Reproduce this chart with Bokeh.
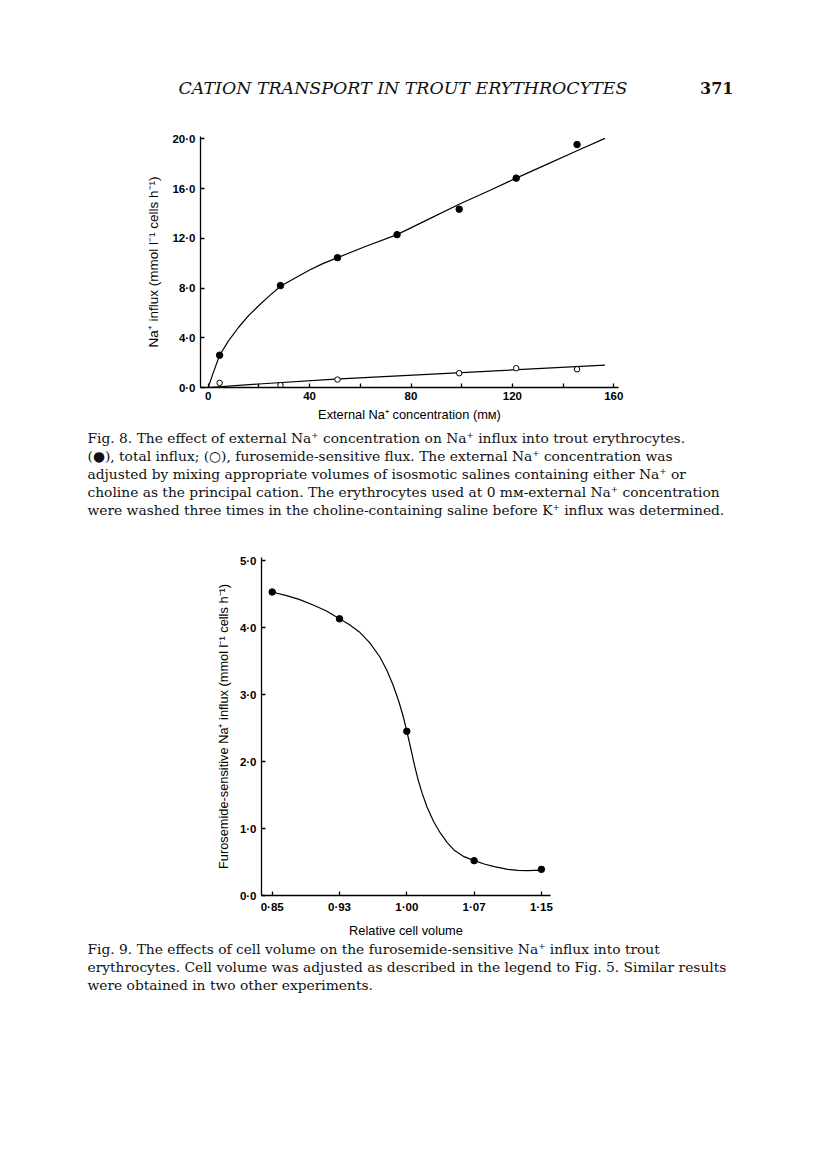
from bokeh.plotting import figure
from bokeh.models import Range1d, FixedTicker
from bokeh.layouts import column, row
from bokeh.core.properties import value
from bokeh.embed import file_html
from bokeh.resources import INLINE

# ---------------- Fig. 8 data ----------------
na_conc_total = [4.5, 28.5, 51.0, 74.5, 99.0, 121.5, 145.5]
total_influx = [2.6, 8.2, 10.45, 12.3, 14.35, 16.85, 19.55]
na_conc_furo = [4.5, 28.5, 51.0, 99.0, 121.5, 145.5]
furo_flux = [0.37, 0.19, 0.64, 1.15, 1.55, 1.47]
# hand-drawn fitted curves
total_fit_x = [0, 2, 4.5, 8, 12, 16, 20, 24, 28.5, 35, 40, 45, 51, 62, 74.5,
               87, 99, 111, 121.5, 134, 145.5, 156.5]
total_fit_y = [0, 1.2, 2.6, 3.75, 4.85, 5.8, 6.6, 7.35, 8.15, 8.9, 9.45, 9.95,
               10.45, 11.35, 12.3, 13.55, 14.75, 15.85, 16.85, 18.0, 19.05, 20.05]
furo_fit_x = [0, 20, 50, 100, 156.5]
furo_fit_y = [0, 0.28, 0.68, 1.2, 1.8]
fig8_y_ticks = [0, 4, 8, 12, 16, 20]
fig8_y_labels = ["0·0", "4·0", "8·0", "12·0", "16·0", "20·0"]
fig8_x_ticks = [0, 40, 80, 120, 160]
fig8_x_minor = [20, 60, 100, 140]
fig8_x_labels = ["0", "40", "80", "120", "160"]

# ---------------- Fig. 9 data ----------------
rel_volume_labels = ["0·85", "0·93", "1·00", "1·07", "1·15"]
rel_volume_pos = [0, 1, 2, 3, 4]
furo_sensitive = [4.53, 4.13, 2.45, 0.52, 0.39]
fit9_x = [0, 0.2, 0.4, 0.6, 0.8, 1, 1.15, 1.3, 1.45, 1.6, 1.7, 1.8, 1.88, 1.95,
          2.0, 2.04, 2.08, 2.12, 2.17, 2.23, 2.3, 2.4, 2.5, 2.6, 2.7, 2.85, 3.0,
          3.15, 3.3, 3.5, 3.65, 3.8, 4.0]
fit9_y = [4.53, 4.48, 4.42, 4.34, 4.25, 4.13, 4.04, 3.93, 3.77, 3.56, 3.37,
          3.13, 2.9, 2.66, 2.45, 2.28, 2.1, 1.92, 1.72, 1.52, 1.32, 1.1, 0.93,
          0.79, 0.68, 0.58, 0.52, 0.47, 0.43, 0.39, 0.375, 0.37, 0.38]
fig9_y_ticks = [0, 1, 2, 3, 4, 5]
fig9_y_labels = ["0·0", "1·0", "2·0", "3·0", "4·0", "5·0"]

# ---------------- texts ----------------
header_title = "CATION TRANSPORT IN TROUT ERYTHROCYTES"
page_number = "371"
caption8 = [
    "Fig. 8. The effect of external Na⁺ concentration on Na⁺ influx into trout erythrocytes.",
    "(●), total influx; (○), furosemide-sensitive flux. The external Na⁺ concentration was",
    "adjusted by mixing appropriate volumes of isosmotic salines containing either Na⁺ or",
    "choline as the principal cation. The erythrocytes used at 0 mᴍ-external Na⁺ concentration",
    "were washed three times in the choline-containing saline before K⁺ influx was determined.",
]
caption9 = [
    "Fig. 9. The effects of cell volume on the furosemide-sensitive Na⁺ influx into trout",
    "erythrocytes. Cell volume was adjusted as described in the legend to Fig. 5. Similar results",
    "were obtained in two other experiments.",
]

W = 800
SERIF = "DejaVu Serif"
SANS = "Liberation Sans"
CAP_SIZE = "13.8px"


def canvas(h):
    c = figure(width=W, height=h, x_range=Range1d(0, W), y_range=Range1d(h, 0),
               output_backend="svg", toolbar_location=None, min_border=0,
               x_axis_location=None, y_axis_location=None)
    c.grid.visible = False
    c.outline_line_color = None
    return c


def style_axes(p):
    p.grid.visible = False
    p.outline_line_color = None
    for ax in (p.xaxis[0], p.yaxis[0]):
        ax.axis_line_color = "black"
        ax.axis_line_width = 1.3
        ax.major_tick_line_width = 1.3
        ax.minor_tick_line_width = 1.3
        ax.major_tick_in = 4
        ax.major_tick_out = 0
        ax.minor_tick_in = 4
        ax.minor_tick_out = 0
        ax.major_label_text_font = SANS
        ax.major_label_text_font_style = "bold"
        ax.major_label_text_font_size = "11.5px"
        ax.major_label_text_color = "black"
        ax.axis_label_text_font = SANS
        ax.axis_label_text_font_style = "normal"
        ax.axis_label_text_font_size = "12.8px"
        ax.axis_label_text_color = "black"


# ---------------- header ----------------
hdr = canvas(118)
hdr.text(x=[178], y=[87], text=[header_title], text_font=value(SERIF),
         text_font_style="italic", text_font_size="17.4px", text_color="#111111",
         text_baseline="alphabetic", text_align="left")
hdr.text(x=[733], y=[87], text=[page_number], text_font=value(SERIF),
         text_font_style="bold", text_font_size="16px", text_color="#111111",
         text_baseline="alphabetic", text_align="right")

# ---------------- Fig. 8 ----------------
p8 = figure(width=W, height=307, x_range=Range1d(-3.04, 161.85),
            y_range=Range1d(0, 20.2), min_border_left=200, min_border_right=182,
            min_border_top=18, min_border_bottom=38,
            output_backend="svg", toolbar_location=None)
style_axes(p8)
p8.xaxis.ticker = FixedTicker(ticks=fig8_x_ticks, minor_ticks=fig8_x_minor)
p8.xaxis.major_label_overrides = dict(zip(fig8_x_ticks, fig8_x_labels))
p8.yaxis.ticker = FixedTicker(ticks=fig8_y_ticks)
p8.yaxis.major_label_overrides = dict(zip(fig8_y_ticks, fig8_y_labels))
p8.xaxis.axis_label = "External Na⁺ concentration (mᴍ)"
p8.yaxis.axis_label = "Na⁺ influx (mmol l⁻¹ cells h⁻¹)"
p8.yaxis.axis_label_text_font_size = "13.5px"
p8.xaxis.major_label_standoff = 4
p8.xaxis.axis_label_standoff = 4
p8.yaxis.major_label_standoff = 5
p8.yaxis.axis_label_standoff = 8

p8.line(total_fit_x, total_fit_y, line_color="black", line_width=1.2)
p8.line(furo_fit_x, furo_fit_y, line_color="black", line_width=1.2)
p8.scatter(na_conc_total, total_influx, marker="circle", size=6.5,
           fill_color="black", line_color="black")
p8.scatter(na_conc_furo, furo_flux, marker="circle", size=5.5,
           fill_color="white", line_color="black", line_width=1)

# ---------------- caption 8 ----------------
cap8 = canvas(105)
cap8.text(x=[87] * len(caption8), y=[12 + 18 * i for i in range(len(caption8))],
          text=caption8, text_font=value(SERIF), text_font_size=CAP_SIZE,
          text_color="#111111", text_baseline="middle", text_align="left")

# ---------------- Fig. 9 ----------------
p9 = figure(width=W, height=410, x_range=Range1d(-0.159, 4.135),
            y_range=Range1d(0, 5.045), min_border_left=261, min_border_right=250,
            min_border_top=27, min_border_bottom=45,
            output_backend="svg", toolbar_location=None)
style_axes(p9)
p9.xaxis.ticker = FixedTicker(ticks=rel_volume_pos)
p9.xaxis.major_label_overrides = dict(zip(rel_volume_pos, rel_volume_labels))
p9.yaxis.ticker = FixedTicker(ticks=fig9_y_ticks)
p9.yaxis.major_label_overrides = dict(zip(fig9_y_ticks, fig9_y_labels))
p9.xaxis.axis_label = "Relative cell volume"
p9.yaxis.axis_label = "Furosemide-sensitive Na⁺ influx (mmol l⁻¹ cells h⁻¹)"
p9.xaxis.major_label_standoff = 5
p9.xaxis.axis_label_standoff = 7
p9.yaxis.major_label_standoff = 5
p9.yaxis.axis_label_standoff = 6

p9.line(fit9_x, fit9_y, line_color="black", line_width=1.2)
p9.scatter(rel_volume_pos, furo_sensitive, marker="circle", size=6.5,
           fill_color="black", line_color="black")

# ---------------- caption 9 ----------------
cap9 = canvas(60)
cap9.text(x=[87] * len(caption9), y=[8 + 18 * i for i in range(len(caption9))],
          text=caption9, text_font=value(SERIF), text_font_size=CAP_SIZE,
          text_color="#111111", text_baseline="middle", text_align="left")

# wrap each figure in its own row so that the column does not align frames
layout = column(row(hdr), row(p8), row(cap8), row(p9), row(cap9))
open("out.html", "w").write(file_html(layout, INLINE))
